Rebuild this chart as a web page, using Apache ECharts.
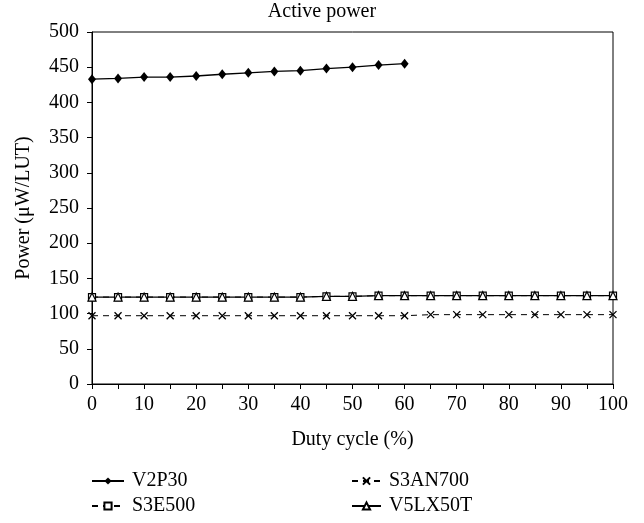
<!DOCTYPE html>
<html><head><meta charset="utf-8">
<script src="https://cdn.jsdelivr.net/npm/echarts@6/dist/echarts.min.js"></script>
<style>html,body{margin:0;padding:0;background:#fff}#c{width:644px;height:523px}</style>
</head><body><div id="c"></div>
<script>
const dutyCycle = [0,5,10,15,20,25,30,35,40,45,50,55,60,65,70,75,80,85,90,95,100];
const v2p30 = [433,434,436,436,437.5,440,442,444,445,448,450,453,455];
const s3an700 = [97,97,97,97,97,97,97,97,97,97,97,97,97,98.5,98.5,98.5,98.5,98.5,98.5,98.5,98.5];
const s3e500 = [123.5,123.5,123.5,123.5,123.5,123.5,123.5,123.5,123.5,124.5,124.5,125.5,125.5,125.5,125.5,125.5,125.5,125.5,125.5,125.5,125.5];
const v5lx50t = [123.5,123.5,123.5,123.5,123.5,123.5,123.5,123.5,123.5,124.5,124.5,125.5,125.5,125.5,125.5,125.5,125.5,125.5,125.5,125.5,125.5];
const seriesNames = ['V2P30','S3AN700','S3E500','V5LX50T'];

function pairs(vals){ return vals.map((v,i)=>[dutyCycle[i], v]); }
const F = 'Liberation Serif';
const FS = 20;
const crossPath = 'path://M0,0L10,10M10,0L0,10';

const chart = echarts.init(document.getElementById('c'));
const legendText = {fontFamily:F,fontSize:FS,color:'#000',padding:[0,0,0,3]};
chart.setOption({
  animation:false,
  backgroundColor:'#fff',
  textStyle:{fontFamily:F,color:'#000'},
  title:{text:'Active power',left:'center',top:2,padding:0,textStyle:{fontFamily:F,fontSize:FS,fontWeight:'normal',color:'#000'}},
  grid:{left:92,right:31,top:32,bottom:139,show:true,borderColor:'#000',borderWidth:1},
  legend:[
    {data:[seriesNames[0],seriesNames[2]],orient:'vertical',left:91,top:471,padding:0,itemWidth:32,itemHeight:9,itemGap:5,
     textStyle:legendText},
    {data:[seriesNames[1],seriesNames[3]],orient:'vertical',left:351,top:471,padding:0,itemWidth:29,itemHeight:9,itemGap:5,
     textStyle:legendText}
  ],
  xAxis:{type:'value',min:0,max:100,interval:5,name:'Duty cycle (%)',nameLocation:'middle',nameGap:46,
    nameTextStyle:{fontFamily:F,fontSize:FS,color:'#000'},
    axisLine:{lineStyle:{color:'#000',width:1}},axisTick:{length:5,lineStyle:{color:'#000'}},
    axisLabel:{fontFamily:F,fontSize:FS,color:'#000',margin:11,formatter:v=>v%10===0?String(v):''},
    splitLine:{show:false}},
  yAxis:{type:'value',min:0,max:500,interval:50,name:'Power (\u03bcW/LUT)',nameLocation:'middle',nameGap:58,
    nameTextStyle:{fontFamily:F,fontSize:FS,color:'#000'},
    axisLine:{show:true,lineStyle:{color:'#000',width:1}},axisTick:{show:true,length:5,lineStyle:{color:'#000'}},
    axisLabel:{fontFamily:F,fontSize:FS,color:'#000',margin:13},
    splitLine:{show:false}},
  series:[
    {name:seriesNames[0],type:'line',data:pairs(v2p30),symbol:'diamond',symbolSize:[8,10],
     lineStyle:{color:'#000',width:1.3},itemStyle:{color:'#000'}},
    {name:seriesNames[1],type:'line',data:pairs(s3an700),symbol:crossPath,symbolSize:7,
     lineStyle:{color:'#000',width:1,type:[6,5]},itemStyle:{color:'none',borderColor:'#000',borderWidth:1.3}},
    {name:seriesNames[2],type:'line',data:pairs(s3e500),symbol:'rect',symbolSize:7,
     lineStyle:{color:'#000',width:1,type:[6,5]},itemStyle:{color:'#fff',borderColor:'#000',borderWidth:1.2}},
    {name:seriesNames[3],type:'line',data:pairs(v5lx50t),symbol:'triangle',symbolSize:8,
     lineStyle:{color:'#000',width:1.3},itemStyle:{color:'#fff',borderColor:'#000',borderWidth:1.2}}
  ]
});
</script></body></html>
